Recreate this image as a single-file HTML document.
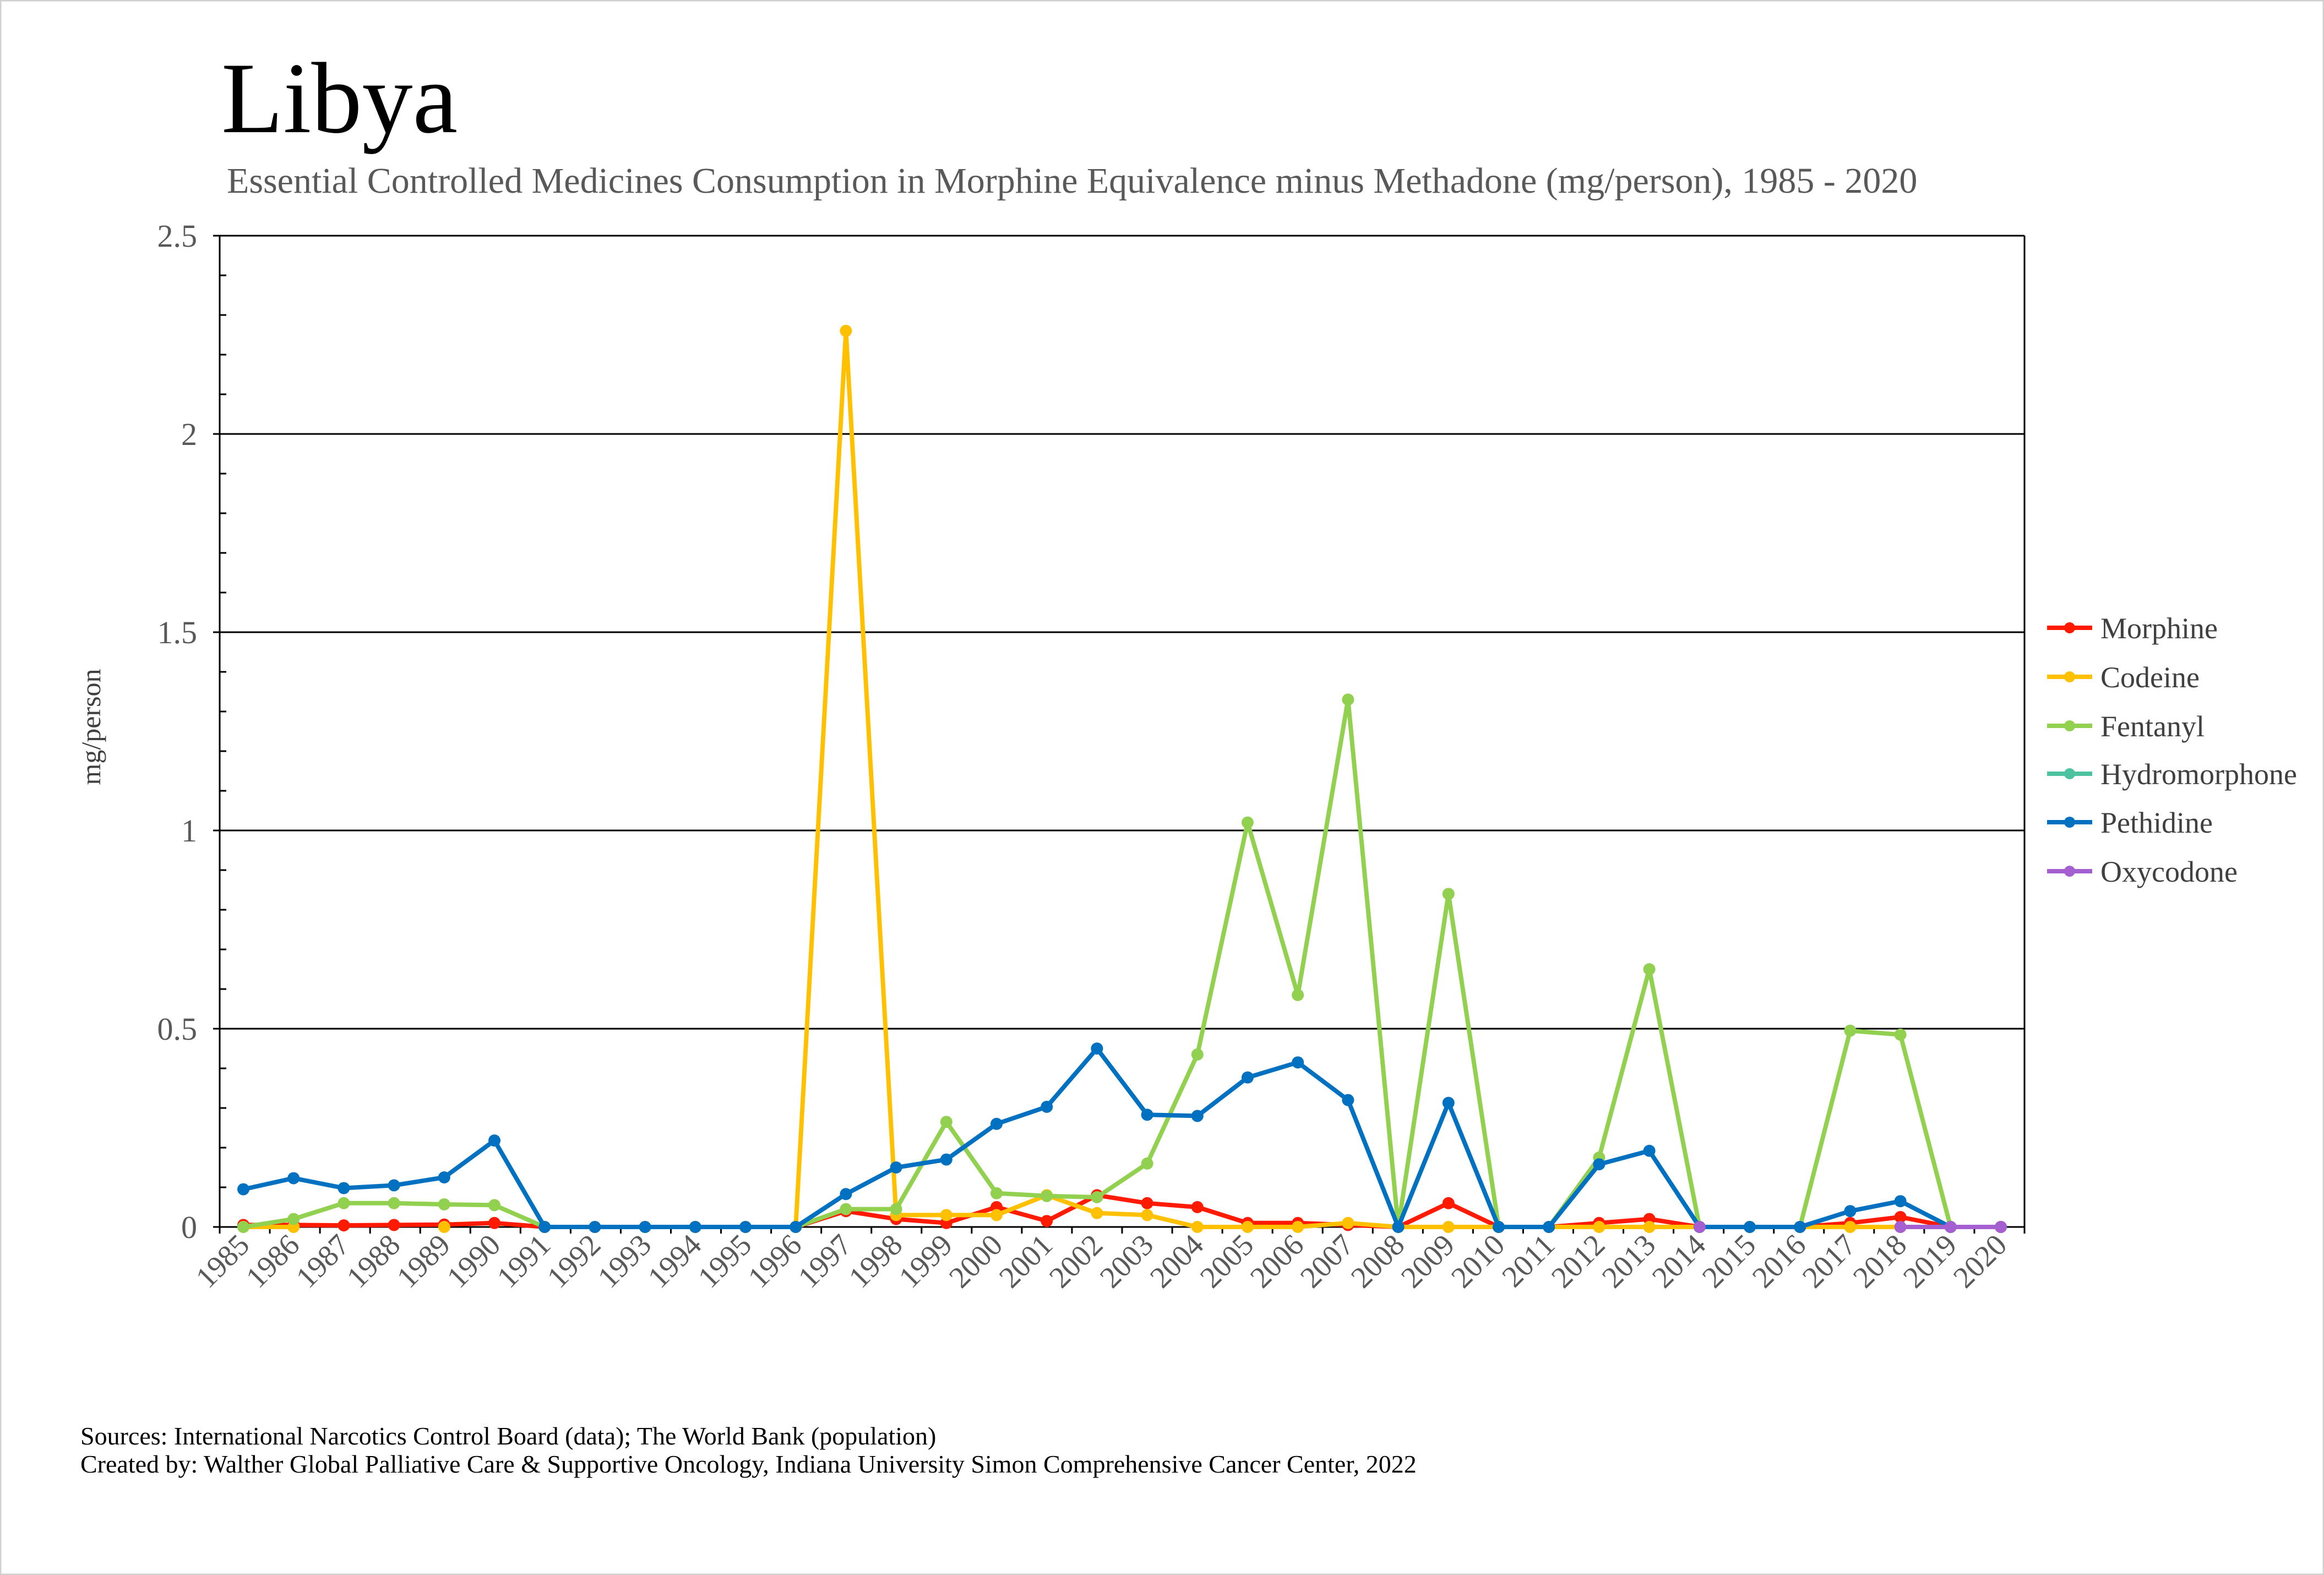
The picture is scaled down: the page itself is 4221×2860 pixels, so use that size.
<!DOCTYPE html>
<html><head><meta charset="utf-8"><style>
html,body{margin:0;padding:0;background:#fff}
svg{display:block}
text{font-family:"Liberation Serif",serif}
</style></head><body>
<svg id="s" width="4221" height="2860" viewBox="0 0 4221 2860" xmlns="http://www.w3.org/2000/svg">
<rect x="1" y="1" width="4219" height="2858" fill="#fff" stroke="#d0d0d0" stroke-width="3"/>
<text x="402" y="240" font-size="184" fill="#000">Libya</text>
<text x="412" y="350" font-size="66" fill="#595959">Essential Controlled Medicines Consumption in Morphine Equivalence minus Methadone (mg/person), 1985 - 2020</text>
<g id="grid" stroke="#000" stroke-width="3"></g>
<g font-size="58" fill="#595959" text-anchor="end">
<text x="358" y="448">2.5</text>
<text x="358" y="808">2</text>
<text x="358" y="1168">1.5</text>
<text x="358" y="1528">1</text>
<text x="358" y="1888">0.5</text>
<text x="358" y="2248">0</text>
</g>
<text transform="translate(182,1320) rotate(-90)" font-size="50" fill="#404040" text-anchor="middle">mg/person</text>
<g id="series"></g>
<g font-size="54" fill="#404040">
<text x="3815" y="1159">Morphine</text>
<text x="3815" y="1248">Codeine</text>
<text x="3815" y="1337">Fentanyl</text>
<text x="3815" y="1424">Hydromorphone</text>
<text x="3815" y="1512">Pethidine</text>
<text x="3815" y="1601">Oxycodone</text>
</g>
<g font-size="46" fill="#000">
<text x="146" y="2623">Sources: International Narcotics Control Board (data); The World Bank (population)</text>
<text x="146" y="2674">Created by: Walther Global Palliative Care &amp; Supportive Oncology, Indiana University Simon Comprehensive Cancer Center, 2022</text>
</g>
<g font-size="55" fill="#595959" text-anchor="end">
<text transform="translate(456,2264) rotate(-45)">1985</text>
<text transform="translate(547,2264) rotate(-45)">1986</text>
<text transform="translate(638,2264) rotate(-45)">1987</text>
<text transform="translate(730,2264) rotate(-45)">1988</text>
<text transform="translate(821,2264) rotate(-45)">1989</text>
<text transform="translate(912,2264) rotate(-45)">1990</text>
<text transform="translate(1003,2264) rotate(-45)">1991</text>
<text transform="translate(1094,2264) rotate(-45)">1992</text>
<text transform="translate(1186,2264) rotate(-45)">1993</text>
<text transform="translate(1277,2264) rotate(-45)">1994</text>
<text transform="translate(1368,2264) rotate(-45)">1995</text>
<text transform="translate(1459,2264) rotate(-45)">1996</text>
<text transform="translate(1550,2264) rotate(-45)">1997</text>
<text transform="translate(1642,2264) rotate(-45)">1998</text>
<text transform="translate(1733,2264) rotate(-45)">1999</text>
<text transform="translate(1824,2264) rotate(-45)">2000</text>
<text transform="translate(1915,2264) rotate(-45)">2001</text>
<text transform="translate(2006,2264) rotate(-45)">2002</text>
<text transform="translate(2098,2264) rotate(-45)">2003</text>
<text transform="translate(2189,2264) rotate(-45)">2004</text>
<text transform="translate(2280,2264) rotate(-45)">2005</text>
<text transform="translate(2371,2264) rotate(-45)">2006</text>
<text transform="translate(2462,2264) rotate(-45)">2007</text>
<text transform="translate(2554,2264) rotate(-45)">2008</text>
<text transform="translate(2645,2264) rotate(-45)">2009</text>
<text transform="translate(2736,2264) rotate(-45)">2010</text>
<text transform="translate(2827,2264) rotate(-45)">2011</text>
<text transform="translate(2918,2264) rotate(-45)">2012</text>
<text transform="translate(3010,2264) rotate(-45)">2013</text>
<text transform="translate(3101,2264) rotate(-45)">2014</text>
<text transform="translate(3192,2264) rotate(-45)">2015</text>
<text transform="translate(3283,2264) rotate(-45)">2016</text>
<text transform="translate(3374,2264) rotate(-45)">2017</text>
<text transform="translate(3466,2264) rotate(-45)">2018</text>
<text transform="translate(3557,2264) rotate(-45)">2019</text>
<text transform="translate(3648,2264) rotate(-45)">2020</text>
</g>
</svg>
<script>
var NS="http://www.w3.org/2000/svg";
function el(p,t,a){var e=document.createElementNS(NS,t);for(var k in a)e.setAttribute(k,a[k]);p.appendChild(e);return e;}
var L=399,R=3677,T=428,B=2228,X0=442,ST=91.2,U=720;
var g=document.getElementById('grid');
for(var i=0;i<=5;i++){var y=T+i*360;el(g,'line',{x1:L-12,x2:R,y1:y,y2:y});}
el(g,'line',{x1:L,x2:L,y1:T,y2:B});
el(g,'line',{x1:R,x2:R,y1:T,y2:B});
for(var i=0;i<25;i++){if(i%5==0)continue;var y=T+i*72;el(g,'line',{x1:L,x2:L+12,y1:y,y2:y});}
for(var i=0;i<=36;i++){var x=L+(R-L)*i/36;el(g,'line',{x1:x,x2:x,y1:B,y2:B+12});}
var S=[
["#FF1A00",[.005,.005,.004,.005,.006,.01,0,0,0,0,0,0,.04,.02,.01,.05,.015,.08,.06,.05,.01,.01,.005,0,.06,0,0,.01,.02,0,0,0,.01,.025,0,0]],
["#FFC000",[0,0,null,null,0,null,null,0,0,0,0,0,2.26,.03,.03,.03,.08,.035,.03,0,0,0,.01,0,0,0,0,0,0,0,0,0,0,0,0,0]],
["#92D050",[0,.02,.06,.06,.057,.055,0,0,0,0,0,0,.045,.045,.265,.085,.078,.075,.16,.435,1.02,.585,1.33,0,.84,0,0,.175,.65,0,0,0,.495,.485,0,0]],
["#0070C0",[.095,.123,.098,.105,.125,.218,0,0,0,0,0,0,.083,.15,.17,.26,.303,.45,.283,.28,.377,.415,.32,0,.313,0,0,.158,.192,0,0,0,.04,.065,0,0]],
["#A55FD0",[null,null,null,null,null,null,null,null,null,null,null,null,null,null,null,null,null,null,null,null,null,null,null,null,null,null,null,null,null,0,null,null,null,0,0,0]]
];
var sg=document.getElementById('series');
S.forEach(function(s){
 var d="",pen=false;
 s[1].forEach(function(v,i){if(v===null){pen=false;return;}var x=X0+i*ST,y=B-v*U;d+=(pen?"L":"M")+x.toFixed(1)+" "+y.toFixed(1);pen=true;});
 if(d)el(sg,'path',{d:d,fill:"none",stroke:s[0],"stroke-width":8,"stroke-linejoin":"round"});
 s[1].forEach(function(v,i){if(v===null)return;el(sg,'circle',{cx:X0+i*ST,cy:B-v*U,r:11,fill:s[0]});});
});
var lc=["#FF1A00","#FFC000","#92D050","#4DC2A0","#0070C0","#A55FD0"],ly=[1140,1229,1318,1405,1493,1582];
lc.forEach(function(c,i){el(sg,'line',{x1:3718,x2:3800,y1:ly[i],y2:ly[i],stroke:c,"stroke-width":8});el(sg,'circle',{cx:3759,cy:ly[i],r:10,fill:c});});
</script>
</body></html>
